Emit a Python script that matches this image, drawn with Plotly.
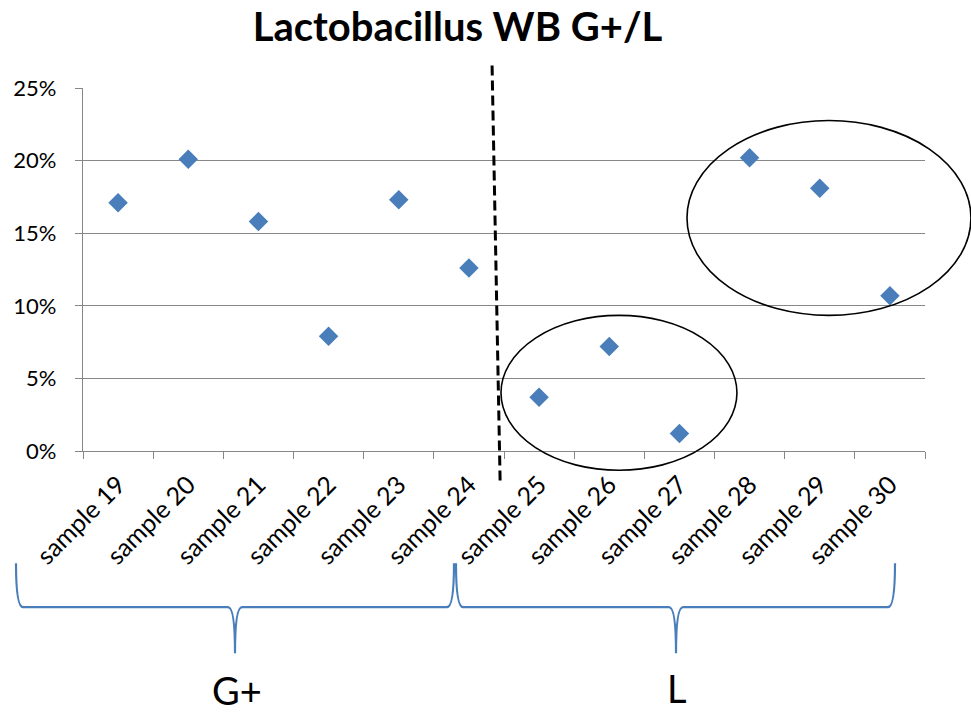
import plotly.graph_objects as go

# ---- data ----
categories = ["sample 19", "sample 20", "sample 21", "sample 22", "sample 23", "sample 24",
              "sample 25", "sample 26", "sample 27", "sample 28", "sample 29", "sample 30"]
values = [0.171, 0.201, 0.158, 0.079, 0.173, 0.126, 0.037, 0.072, 0.012, 0.202, 0.181, 0.107]
y_ticks = [0, 0.05, 0.10, 0.15, 0.20, 0.25]
y_tick_labels = ["0%", "5%", "10%", "15%", "20%", "25%"]
group_labels = ["G+", "L"]

W, H = 971, 712
ML, MR, MT, MB = 83, 46, 87.5, 261.3
PW, PH = W - ML - MR, H - MT - MB
N = len(categories)

def px_x(px):
    return (px - ML) / PW

def px_y(py):
    return (H - MB - py) / PH

def idx_x(i):
    return (i + 0.5) / N

def val_y(v):
    return v / 0.25

blue = "#4A7EBB"
gray = "#878787"
font = "Lato"

fig = go.Figure()
fig.add_trace(go.Scatter(
    x=categories, y=values, mode="markers",
    marker=dict(symbol="diamond", size=15, color=blue, line=dict(width=0)),
    showlegend=False, hoverinfo="skip"))

shapes = []
# dashed separator
shapes.append(dict(type="line", xref="paper", yref="paper",
                   x0=idx_x(5.33), y0=val_y(0.2655), x1=idx_x(5.445), y1=val_y(-0.0215),
                   line=dict(color="black", width=3, dash="10px,5px")))
# ellipses
shapes.append(dict(type="circle", xref="paper", yref="paper",
                   x0=idx_x(5.457), x1=idx_x(8.82), y0=val_y(-0.0133), y1=val_y(0.0934),
                   line=dict(color="black", width=1.6)))
shapes.append(dict(type="circle", xref="paper", yref="paper",
                   x0=idx_x(8.108), x1=idx_x(12.155), y0=val_y(0.0934), y1=val_y(0.2276),
                   line=dict(color="black", width=1.6)))

# braces (pixel geometry converted to paper)
def brace(x0, xt, x1, ytop=563, ymid=607, ytip=653, r=7):
    def P(x, y):
        return f"{px_x(x):.5f},{px_y(y):.5f}"
    path = (f"M {P(x0, ytop)} Q {P(x0, ymid)} {P(x0 + r, ymid)} "
            f"L {P(xt - r, ymid)} Q {P(xt, ymid)} {P(xt, ytip)} "
            f"Q {P(xt, ymid)} {P(xt + r, ymid)} "
            f"L {P(x1 - r, ymid)} Q {P(x1, ymid)} {P(x1, ytop)}")
    return dict(type="path", xref="paper", yref="paper", path=path,
                line=dict(color=blue, width=2.2))

shapes.append(brace(16, 235, 454))
shapes.append(brace(456, 676, 895))

annotations = [
    dict(text=group_labels[0], xref="paper", yref="paper", x=px_x(237), y=px_y(690),
         showarrow=False, font=dict(family=font, size=38, color="black"),
         xanchor="center", yanchor="middle"),
    dict(text=group_labels[1], xref="paper", yref="paper", x=px_x(677), y=px_y(688),
         showarrow=False, font=dict(family=font, size=38, color="black"),
         xanchor="center", yanchor="middle"),
]

fig.update_layout(
    width=W, height=H,
    margin=dict(l=ML, r=MR, t=MT, b=MB, pad=0),
    paper_bgcolor="white", plot_bgcolor="white",
    title=dict(text="<b>Lactobacillus WB G+/L</b>", x=457.5 / W, xref="container", xanchor="center",
               y=1 - 27 / H, yref="container", yanchor="middle",
               font=dict(family=font, size=40, color="black")),
    shapes=shapes, annotations=annotations,
    xaxis=dict(type="category", range=[-0.5, N - 0.5], tickson="boundaries",
               ticks="outside", ticklen=7, tickcolor=gray, tickwidth=1.3,
               showline=True, linecolor=gray, linewidth=1.3, showgrid=False,
               tickangle=-45, tickfont=dict(family=font, size=25, color="black"),
               ticklabelstandoff=8, fixedrange=True, zeroline=False),
    yaxis=dict(range=[0, 0.25], tickvals=y_ticks, ticktext=y_tick_labels,
               ticks="outside", ticklen=7, tickcolor=gray, tickwidth=1.3,
               showline=True, linecolor=gray, linewidth=1.3,
               showgrid=True, gridcolor=gray, gridwidth=1.3, zeroline=False,
               tickfont=dict(family=font, size=22, color="black"),
               ticklabelstandoff=14, fixedrange=True),
)

fig.write_html("out.html")
